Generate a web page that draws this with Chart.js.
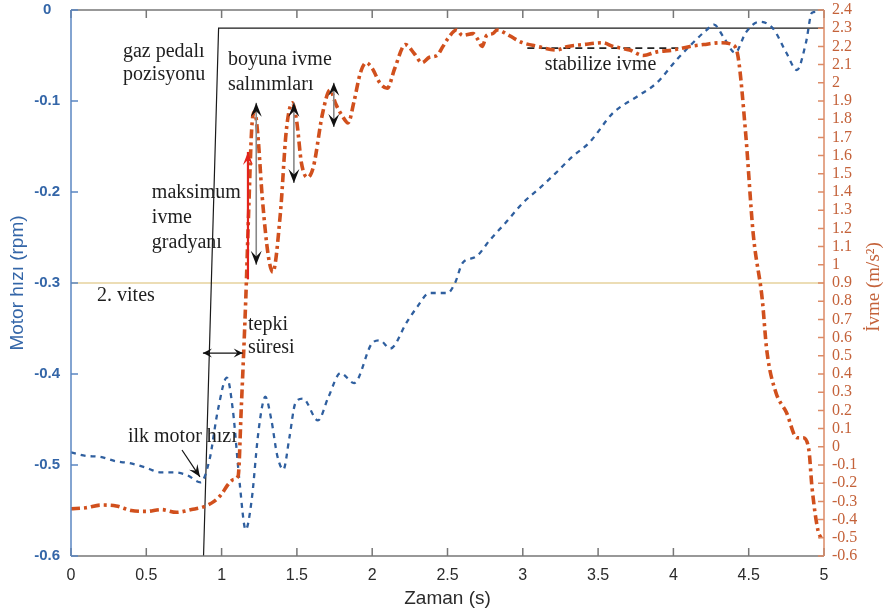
<!DOCTYPE html>
<html>
<head>
<meta charset="utf-8">
<script src="https://cdn.jsdelivr.net/npm/chart.js@4/dist/chart.umd.min.js"></script>
<style>
  body { margin: 0; background: #fff; }
  #wrap { width: 890px; height: 611px; position: relative; }
</style>
</head>
<body>
<div id="wrap"><canvas id="grafik"></canvas></div>
<script>
// zaman ekseni (s)
const xTicks = [0, 0.5, 1, 1.5, 2, 2.5, 3, 3.5, 4, 4.5, 5];

// ivme (m/s2) - sag eksen
const tIvme = [0, 0.1, 0.2, 0.3, 0.4, 0.5, 0.6, 0.7, 0.8, 0.88, 0.95, 1.0, 1.04, 1.08, 1.11,
  1.13, 1.16, 1.18, 1.20, 1.22, 1.24, 1.27, 1.31, 1.34, 1.39, 1.43, 1.47, 1.50, 1.53, 1.57, 1.61,
  1.67, 1.72, 1.76, 1.80, 1.84, 1.88, 1.92, 1.96, 2.0, 2.05, 2.10, 2.15, 2.22, 2.28, 2.33, 2.38,
  2.43, 2.47, 2.50, 2.56, 2.60, 2.67, 2.70, 2.73, 2.76, 2.80, 2.83, 2.89, 2.95, 3.0, 3.1, 3.22,
  3.3, 3.4, 3.53, 3.6, 3.71, 3.8, 3.89, 4.0, 4.11, 4.2, 4.31, 4.39, 4.43, 4.48, 4.53, 4.59, 4.62,
  4.68, 4.75, 4.82, 4.86, 4.90, 4.92, 4.96, 4.98];
const ivme = [-0.34, -0.335, -0.32, -0.325, -0.35, -0.355, -0.345, -0.36, -0.345, -0.33, -0.30, -0.26, -0.21, -0.18, -0.16,
  0.2, 0.8, 1.3, 1.75, 1.84, 1.72, 1.37, 1.05, 0.96, 1.28, 1.74, 1.89, 1.78, 1.56, 1.48, 1.54,
  1.83, 1.96, 1.88, 1.82, 1.78, 1.9, 2.05, 2.11, 2.08, 2.0, 1.97, 2.08, 2.21, 2.16, 2.11, 2.14,
  2.15, 2.2, 2.24, 2.29, 2.26, 2.27, 2.24, 2.2, 2.26, 2.27, 2.29, 2.27, 2.24, 2.22, 2.2, 2.18,
  2.2, 2.21, 2.22, 2.2, 2.18, 2.15, 2.17, 2.18, 2.2, 2.21, 2.22, 2.21, 2.14, 1.72, 1.17, 0.81, 0.53,
  0.30, 0.19, 0.05, 0.05, -0.02, -0.22, -0.46, -0.50];

// motor hizi (rpm) - sol eksen
const tMotor = [0, 0.1, 0.19, 0.3, 0.39, 0.5, 0.59, 0.68, 0.77, 0.86, 0.92, 0.975, 1.035, 1.075, 1.12,
  1.16, 1.20, 1.24, 1.27, 1.29, 1.33, 1.37, 1.41, 1.45, 1.49, 1.54, 1.64, 1.71, 1.79, 1.88, 2.0, 2.05,
  2.12, 2.23, 2.30, 2.38, 2.50, 2.55, 2.60, 2.69, 2.78, 2.89, 3.0, 3.11, 3.22, 3.33, 3.44, 3.60,
  3.76, 3.89, 4.02, 4.13, 4.22, 4.27, 4.33, 4.41, 4.48, 4.57, 4.66, 4.75, 4.82, 4.88, 4.92, 4.96];
const motor = [-0.486, -0.49, -0.491, -0.496, -0.498, -0.503, -0.508, -0.508, -0.511, -0.519, -0.494, -0.44, -0.404, -0.44, -0.52,
  -0.571, -0.538, -0.47, -0.435, -0.425, -0.45, -0.49, -0.505, -0.47, -0.432, -0.427, -0.451, -0.425, -0.399, -0.41, -0.366, -0.363,
  -0.372, -0.343, -0.326, -0.311, -0.311, -0.30, -0.278, -0.271, -0.253, -0.233, -0.212, -0.196, -0.179, -0.161, -0.146, -0.113,
  -0.095, -0.08, -0.055, -0.036, -0.022, -0.016, -0.029, -0.047, -0.025, -0.013, -0.02, -0.047, -0.066, -0.036, -0.003, -0.002];

// gaz pedali pozisyonu (sag eksen olceginde)
const tPedal = [0.88, 0.98, 5];
const pedal = [-0.6, 2.3, 2.3];

// 2. vites seviyesi ve stabilize ivme cizgisi
const tVites = [0, 5];
const vites = [0.9, 0.9];
const tStabil = [3.03, 4.09];
const stabil = [2.19, 2.19];

const pts = (xs, ys) => xs.map((x, i) => ({ x: x, y: ys[i] }));

const MAVI = '#2f5f9f';
const KIRMIZI = '#d1501d';
const SAG_RENK = '#c4623a';

function ok(ctx, x1, y1, x2, y2, renk, govde, iki, boy, gen, kalin) {
  ctx.save();
  ctx.strokeStyle = govde;
  ctx.lineWidth = kalin;
  ctx.beginPath();
  ctx.moveTo(x1, y1);
  ctx.lineTo(x2, y2);
  ctx.stroke();
  const bas = (xa, ya, xb, yb) => {
    const a = Math.atan2(yb - ya, xb - xa);
    ctx.fillStyle = renk;
    ctx.beginPath();
    ctx.moveTo(xb, yb);
    ctx.lineTo(xb - boy * Math.cos(a) + gen * Math.sin(a), yb - boy * Math.sin(a) - gen * Math.cos(a));
    ctx.lineTo(xb - boy * 0.6 * Math.cos(a), yb - boy * 0.6 * Math.sin(a));
    ctx.lineTo(xb - boy * Math.cos(a) - gen * Math.sin(a), yb - boy * Math.sin(a) + gen * Math.cos(a));
    ctx.closePath();
    ctx.fill();
  };
  bas(x1, y1, x2, y2);
  if (iki) bas(x2, y2, x1, y1);
  ctx.restore();
}

const cerceve = {
  id: 'cerceve',
  afterDatasetsDraw(chart) {
    const { ctx, chartArea: a, scales } = chart;
    const sx = scales.x, yl = scales.yL, yr = scales.yR;
    ctx.save();
    ctx.lineWidth = 1.5;
    // ust ve alt cizgi
    ctx.strokeStyle = '#777';
    ctx.beginPath();
    ctx.moveTo(a.left, a.top); ctx.lineTo(a.right, a.top);
    ctx.moveTo(a.left, a.bottom); ctx.lineTo(a.right, a.bottom);
    xTicks.forEach(v => {
      const p = sx.getPixelForValue(v);
      ctx.moveTo(p, a.top); ctx.lineTo(p, a.top + 8);
      ctx.moveTo(p, a.bottom); ctx.lineTo(p, a.bottom - 8);
    });
    ctx.stroke();
    // sol eksen
    ctx.strokeStyle = '#5b86c2';
    ctx.beginPath();
    ctx.moveTo(a.left, a.top); ctx.lineTo(a.left, a.bottom);
    yl.ticks.forEach(t => {
      const p = yl.getPixelForValue(t.value);
      ctx.moveTo(a.left, p); ctx.lineTo(a.left + 7, p);
    });
    ctx.stroke();
    // sag eksen
    ctx.strokeStyle = '#dc8a66';
    ctx.beginPath();
    ctx.moveTo(a.right, a.top); ctx.lineTo(a.right, a.bottom);
    yr.ticks.forEach(t => {
      const p = yr.getPixelForValue(t.value);
      ctx.moveTo(a.right, p); ctx.lineTo(a.right - 6, p);
    });
    ctx.stroke();

    // sag eksen basligi (asagidan yukari)
    ctx.fillStyle = SAG_RENK;
    ctx.font = '19px "Liberation Serif", "Times New Roman", serif';
    ctx.textAlign = 'center';
    ctx.textBaseline = 'middle';
    ctx.translate(874, (a.top + a.bottom) / 2 + 4);
    ctx.rotate(-Math.PI / 2);
    ctx.fillText('İvme (m/s²)', 0, 0);
    ctx.restore();

    // aciklamalar
    const X = v => sx.getPixelForValue(v);
    const R = v => yr.getPixelForValue(v);
    const L = v => yl.getPixelForValue(v);
    ctx.save();
    ctx.fillStyle = '#1e1e1e';
    ctx.font = '20px "Liberation Serif", "Times New Roman", serif';
    ctx.textAlign = 'left';
    ctx.textBaseline = 'middle';
    const yazi = [
      ['gaz pedalı', 0.345, 2.169], ['pozisyonu', 0.345, 2.043],
      ['boyuna ivme', 1.042, 2.125], ['salınımları', 1.042, 1.988],
      ['maksimum', 0.537, 1.395], ['ivme', 0.537, 1.257], ['gradyanı', 0.537, 1.12],
      ['2. vites', 0.173, 0.829],
      ['tepki', 1.175, 0.669], ['süresi', 1.175, 0.543],
      ['ilk motor hızı', 0.378, 0.054],
      ['stabilize ivme', 3.145, 2.098]
    ];
    yazi.forEach(([s, x, y]) => ctx.fillText(s, X(x), R(y)));
    ctx.restore();

    // oklar
    ok(ctx, X(1.175), R(0.92), X(1.175), R(1.62), '#e3231c', '#e3231c', false, 13, 5, 2.2);
    ok(ctx, X(1.23), R(1.0), X(1.23), R(1.89), '#111', '#888', true, 14, 5.5, 1.6);
    ok(ctx, X(1.48), R(1.45), X(1.48), R(1.89), '#111', '#888', true, 14, 5.5, 1.6);
    ok(ctx, X(1.745), R(1.757), X(1.745), R(2.0), '#111', '#888', true, 13, 5.5, 1.6);
    ok(ctx, X(0.876), R(0.515), X(1.14), R(0.515), '#111', '#111', true, 9, 4.5, 1.2);
    ok(ctx, X(0.737), L(-0.4835), X(0.856), L(-0.513), '#111', '#111', false, 12, 5, 1.2);
  }
};

// eksen kutularinin kendi bosluklarini sifirla, cizim alani sabit kalsin
const dikeyFit = w => s => { s.width = w; s.paddingTop = 0; s.paddingBottom = 0; };

new Chart(document.getElementById('grafik'), {
  type: 'line',
  data: {
    datasets: [
      { data: pts(tIvme, ivme), yAxisID: 'yR', borderColor: KIRMIZI, borderWidth: 3.6,
        borderDash: [9, 4, 3, 4], cubicInterpolationMode: 'monotone', pointRadius: 0, order: 1 },
      { data: pts(tStabil, stabil), yAxisID: 'yR', borderColor: '#222', borderWidth: 1.8,
        borderDash: [7, 5], pointRadius: 0, order: 2 },
      { data: pts(tMotor, motor), yAxisID: 'yL', borderColor: MAVI, borderWidth: 2.3,
        borderDash: [5, 5], cubicInterpolationMode: 'monotone', pointRadius: 0, order: 3 },
      { data: pts(tPedal, pedal), yAxisID: 'yR', borderColor: '#1a1a1a', borderWidth: 1.2,
        pointRadius: 0, order: 4 },
      { data: pts(tVites, vites), yAxisID: 'yR', borderColor: '#e6d29c', borderWidth: 1.6,
        pointRadius: 0, order: 5 }
    ]
  },
  options: {
    responsive: true,
    maintainAspectRatio: false,
    animation: false,
    layout: { autoPadding: false, padding: { top: 10, left: 0, right: 0, bottom: 0 } },
    plugins: { legend: { display: false }, tooltip: { enabled: false } },
    scales: {
      x: {
        type: 'linear', min: 0, max: 5,
        grid: { display: false, drawTicks: false }, border: { display: false },
        afterBuildTicks: s => { s.ticks = xTicks.map(v => ({ value: v })); },
        afterFit: s => { s.height = 55; s.paddingLeft = 0; s.paddingRight = 0; },
        ticks: { color: '#2b2b2b', padding: 10, maxRotation: 0, autoSkip: false,
          callback: v => String(Number(v.toFixed(1))),
          font: { family: '"Liberation Sans", Arial, sans-serif', size: 16 } },
        title: { display: true, text: 'Zaman (s)', color: '#2b2b2b', padding: { top: 0, bottom: 1 },
          font: { family: '"Liberation Sans", Arial, sans-serif', size: 19 } }
      },
      yL: {
        type: 'linear', position: 'left', min: -0.6, max: 0,
        grid: { display: false, drawTicks: false }, border: { display: false },
        afterFit: dikeyFit(71),
        ticks: { stepSize: 0.1, color: '#3466a8', padding: 11, autoSkip: false, crossAlign: 'center',
          callback: v => String(Number(v.toFixed(1))),
          font: { family: '"Liberation Sans", Arial, sans-serif', size: 15, weight: 'bold' } },
        title: { display: true, text: 'Motor hızı (rpm)', color: '#3466a8', padding: { top: 6, bottom: 0 },
          font: { family: '"Liberation Sans", Arial, sans-serif', size: 19 } }
      },
      yR: {
        type: 'linear', position: 'right', min: -0.6, max: 2.4,
        grid: { display: false, drawTicks: false }, border: { display: false },
        afterFit: dikeyFit(66),
        ticks: { stepSize: 0.1, color: SAG_RENK, padding: 8, autoSkip: false,
          callback: v => String(Number(v.toFixed(1))),
          font: { family: '"Liberation Serif", "Times New Roman", serif', size: 16 } }
      }
    }
  },
  plugins: [cerceve]
});
</script>
</body>
</html>
